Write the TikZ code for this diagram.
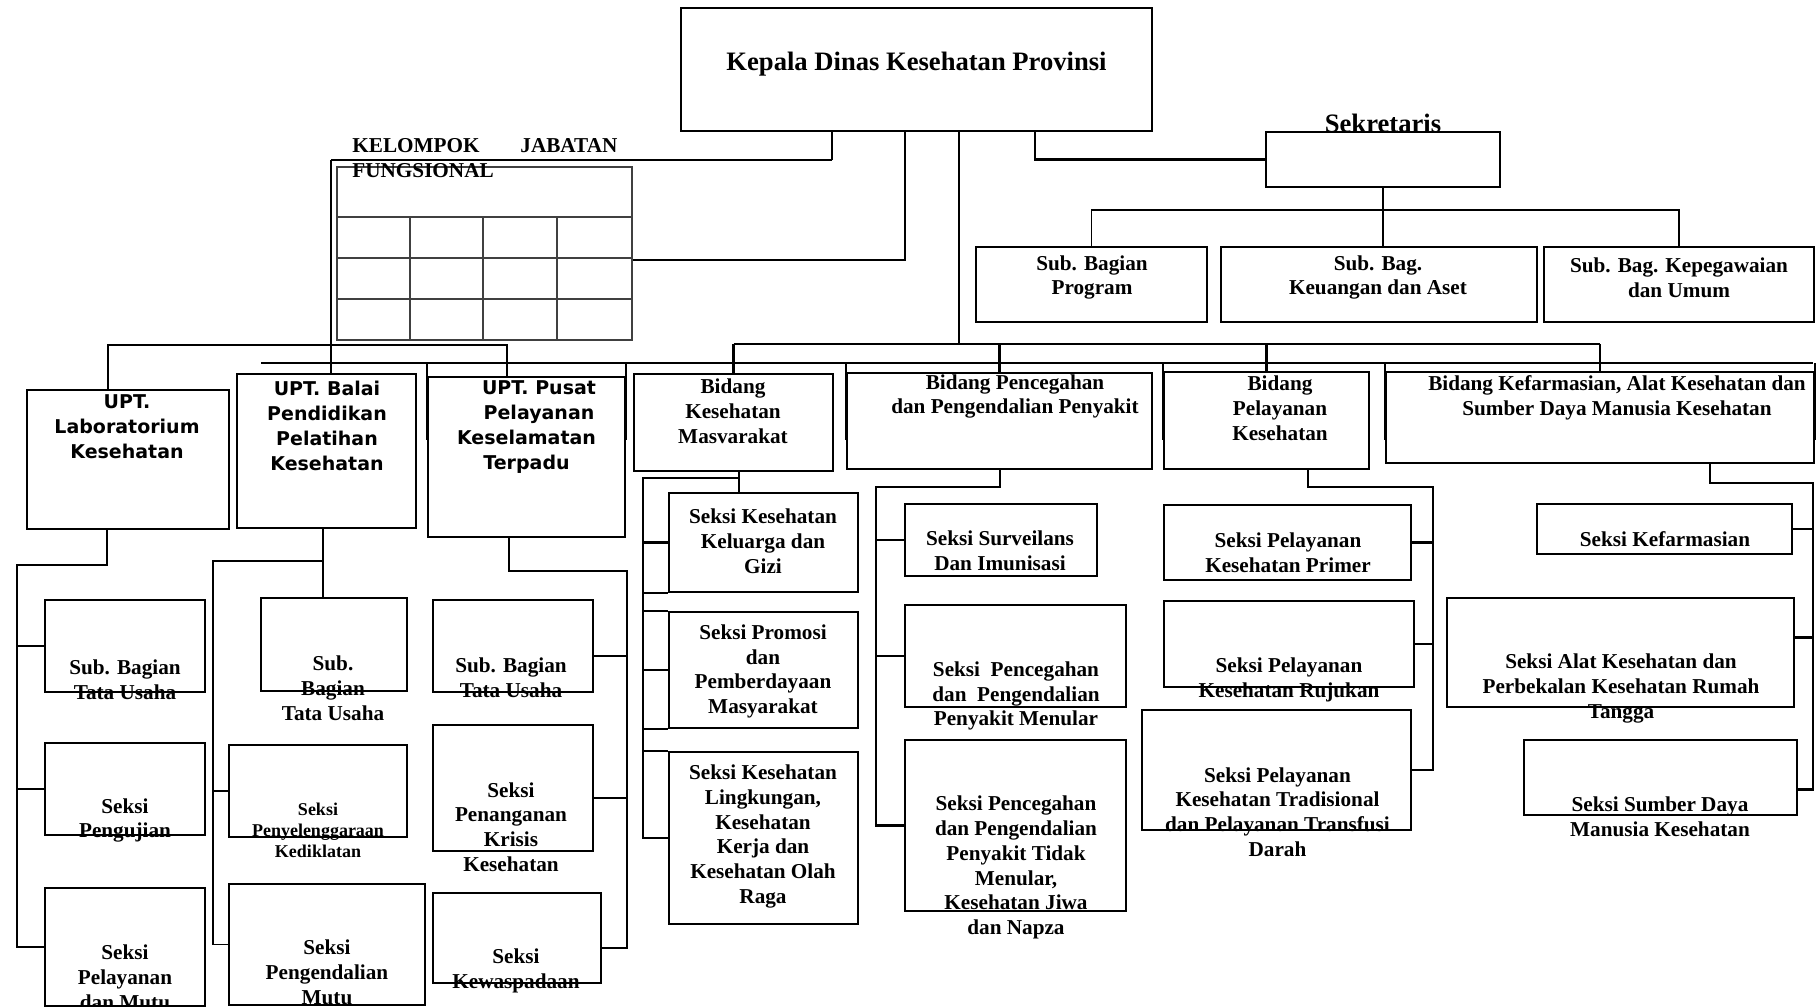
\documentclass[tikz,border=0pt]{standalone}
\usepackage{fontspec}
\setmainfont{Liberation Serif}
\newfontfamily\uptfont{DejaVu Sans}
\usetikzlibrary{fit}
\begin{document}
\begin{tikzpicture}[x=0.5pt, y=-0.5pt,
% common options for boxes:
box/.style = {draw, line width=0.8pt, inner sep=0},
heavy/.style = {box, line width=1.1pt},
% common options for the texts:
txt/.style = {align=center, inner sep=0,
            font=\bfseries\fontsize{10.6}{12.4}\selectfont},
txtsm/.style = {txt, font=\bfseries\fontsize{9}{10.5}\selectfont},
head/.style = {inner sep=0, font=\bfseries\fontsize{13.3}{15}\selectfont},
upt/.style = {align=center, inner sep=0,
            font=\uptfont\bfseries\fontsize{9.5}{12.5}\selectfont},
% common options for the lines:
link/.style = {line width=1.2pt},
wire/.style = {line width=0.8pt},
hair/.style = {line width=0.55pt},
cell/.style = {line width=0.7pt, black!75}]
\useasboundingbox (0,0) rectangle (1816,1007);
% top
\node[box, fit={(681,8) (1152,131)}] (K0) {};
\node[box, fit={(1266,132) (1500,187)}] (S0) {};
\node[box, fit={(976,247) (1207,322)}] (S1) {};
\node[box, fit={(1221,247) (1537,322)}] (S2) {};
\node[box, fit={(1544,247) (1814,322)}] (S3) {};
\node[cell, draw, inner sep=0, fit={(337,167) (632,340)}] (G0) {};
\foreach \y in {217,258,299} \draw[cell] (G0.west |- 0,\y) -- (G0.east |- 0,\y);
\foreach \x in {410,483,557} \draw[cell] (\x,217) -- (\x,340);
\node[head, anchor=base] (tK0) at (916.5,70) {Kepala Dinas Kesehatan Provinsi};
\node[head, anchor=base] (tS0) at (1383,132) {Sekretaris};
\node[txt] (tS1) at (1092,277.5) {Sub. Bagian\\Program};
\node[txt] (tS2) at (1378,277.5) {Sub. Bag.\\Keuangan dan Aset};
\node[txt] (tS3) at (1679,277.5) {Sub. Bag. Kepegawaian\\dan Umum};
\node[txt, text width=132.5pt, align=justify, anchor=north west] (tG0) at (352,138)
     {KELOMPOK JABATAN FUNGSIONAL};
% UPT
\node[box, fit={(27,390) (229,529)}] (U1) {};
\node[box, fit={(237,374) (416,528)}] (U2) {};
\node[box, fit={(428,377) (625,537)}] (U3) {};
\node[upt] (tU1) at (127,427) {UPT.\\Laboratorium\\Kesehatan};
\node[upt] (tU2) at (327,425.5) {UPT. Balai\\Pendidikan\\Pelatihan\\Kesehatan};
\node[upt] (tU3) at (526.5,427) {\hspace*{12.5pt}UPT. Pusat\\\hspace*{12.5pt}Pelayanan\\Keselamatan\\Terpadu};
\node[box, fit={(45,600) (205,692)}] (U1a) {};
\node[box, fit={(45,743) (205,835)}] (U1b) {};
\node[box, fit={(45,888) (205,1006)}] (U1c) {};
\node[box, fit={(261,598) (407,691)}] (U2a) {};
\node[box, fit={(229,745) (407,837)}] (U2b) {};
\node[box, fit={(229,884) (425,1005)}] (U2c) {};
\node[box, fit={(433,600) (593,692)}] (U3a) {};
\node[box, fit={(433,725) (593,851)}] (U3b) {};
\node[box, fit={(433,893) (601,983)}] (U3c) {};
\node[txt] (tU1a) at (125,679.5) {Sub. Bagian\\Tata Usaha};
\node[txt] (tU1b) at (125,820.5) {Seksi\\Pengujian};
\node[txt] (tU1c) at (125,977) {Seksi\\Pelayanan\\dan Mutu};
\node[txt] (tU2a) at (333,688.5) {Sub.\\Bagian\\Tata Usaha};
\node[txtsm] (tU2b) at (318,830) {Seksi\\Penyelenggaraan\\Kediklatan};
\node[txt] (tU2c) at (327,972.5) {Seksi\\Pengendalian\\Mutu};
\node[txt] (tU3a) at (511,678) {Sub. Bagian\\Tata Usaha};
\node[txt] (tU3b) at (511,827) {Seksi\\Penanganan\\Krisis\\Kesehatan};
\node[txt] (tU3c) at (516,970.5) {Seksi\\Kewaspadaan};
% Bidang
\node[box, fit={(634,374) (833,471)}] (B1) {};
\node[box, fit={(847,373) (1152,469)}] (B2) {};
\node[box, fit={(1164,372) (1369,469)}] (B3) {};
\node[box, fit={(1386,372) (1814,463)}] (B4) {};
\node[txt] (tB1) at (733,411) {Bidang\\Kesehatan\\Masvarakat};
\node[txt] (tB2) at (1015,396.5) {Bidang Pencegahan\\dan Pengendalian Penyakit};
\node[txt] (tB3) at (1280,408) {Bidang\\Pelayanan\\Kesehatan};
\node[txt] (tB4) at (1617,397.5) {Bidang Kefarmasian, Alat Kesehatan dan\\Sumber Daya Manusia Kesehatan};
\node[heavy, fit={(669,493) (858,592)}] (B1a) {};
\node[heavy, fit={(669,612) (858,728)}] (B1b) {};
\node[heavy, fit={(669,752) (858,924)}] (B1c) {};
\node[box, fit={(905,504) (1097,576)}] (B2a) {};
\node[box, fit={(905,605) (1126,707)}] (B2b) {};
\node[box, fit={(905,740) (1126,911)}] (B2c) {};
\node[box, fit={(1164,505) (1411,580)}] (B3a) {};
\node[box, fit={(1164,601) (1414,687)}] (B3b) {};
\node[box, fit={(1142,710) (1411,830)}] (B3c) {};
\node[box, fit={(1537,504) (1792,554)}] (B4a) {};
\node[box, fit={(1447,598) (1794,707)}] (B4b) {};
\node[box, fit={(1524,740) (1797,815)}] (B4c) {};
\node[txt] (tB1a) at (763,541) {Seksi Kesehatan\\Keluarga dan\\Gizi};
\node[txt] (tB1b) at (763,671.5) {Seksi Promosi\\dan\\Pemberdayaan\\Masyarakat};
\node[txt] (tB1c) at (763,836.5) {Seksi Kesehatan\\Lingkungan,\\Kesehatan\\Kerja dan\\Kesehatan Olah\\Raga};
\node[txt] (tB2a) at (1000,551) {Seksi Surveilans\\Dan Imunisasi};
\node[txt] (tB2b) at (1016,696) {Seksi~~Pencegahan\\dan~~Pengendalian\\Penyakit Menular};
\node[txt] (tB2c) at (1016,867.5) {Seksi Pencegahan\\dan Pengendalian\\Penyakit Tidak\\Menular,\\Kesehatan Jiwa\\dan Napza};
\node[txt] (tB3a) at (1288,553) {Seksi Pelayanan\\Kesehatan Primer};
\node[txt] (tB3b) at (1289,680) {Seksi Pelayanan\\Kesehatan Rujukan};
\node[txt] (tB3c) at (1277.5,812) {Seksi Pelayanan\\Kesehatan Tradisional\\dan Pelayanan Transfusi\\Darah};
\node[txt] (tB4a) at (1665,539.5) {Seksi Kefarmasian};
\node[txt] (tB4b) at (1621,688.5) {Seksi Alat Kesehatan dan\\Perbekalan Kesehatan Rumah\\Tangga};
\node[txt] (tB4c) at (1660,817) {Seksi Sumber Daya\\Manusia Kesehatan};
% lines from the head
\coordinate (k1) at (832,160);
\coordinate (k2) at (331,160);
\coordinate (k3) at (905,260);
\coordinate (k4) at (959,344);
\coordinate (k5) at (1035,0);
\draw[wire] (K0.south -| k1) -- (k1);
\draw[hair] (k1) -- (k2);
\draw[link] (k2) -- (k2 |- U2.north);
\draw[link] (K0.south -| k3) -- (k3) -- (G0.east |- k3);
\draw[wire] (K0.south -| k4) -- (k4);
\draw[link] (K0.south -| k5) -- (k5 |- S0.west) -- (S0.west);
\coordinate (s1) at (1385,210);
\draw[wire] (S0.south) -- (S0.south |- S2.north);
\draw[wire] (S1.north) -- (S1.north |- s1) -- (S3.north |- s1) -- (S3.north);
% buses
\coordinate (bus) at (0,344);
\draw[link] (B1.north |- bus) -- (B4.north |- bus);
\foreach \n in {B1,B2,B3,B4} \draw[link] (\n.north |- bus) -- (\n.north);
\coordinate (l1) at (108,345);
\coordinate (l2) at (507,345);
\draw[link] (l1 |- U1.north) -- (l1) -- (l2) -- (l2 |- U3.north);
\coordinate (w0) at (261,363);
\coordinate (w1) at (1813,363);
\coordinate (e0) at (0,440);
\draw[link] (w0) -- (w1);
\foreach \n in {U3.north west,U3.north east,B2.north west,B3.north west,B4.north west,B4.north east}
  \draw[link] (\n |- w0) -- (\n |- e0);
% UPT Laboratorium
\coordinate (c1) at (107,565);
\coordinate (c1b) at (17,565);
\draw[link] (U1.south -| c1) -- (c1) -- (c1b) -- (c1b |- U1c.west) -- (U1c.west);
\draw[link] (c1b |- U1a.west) -- (U1a.west);
\draw[link] (c1b |- U1b.west) -- (U1b.west);
% UPT Balai
\coordinate (c2) at (323,561);
\coordinate (c2b) at (213,561);
\draw[link] (U2.south -| c2) -- (c2 |- U2a.north);
\draw[hair] (c2) -- (c2b) -- (c2b |- U2c.west) -- (U2c.west);
\draw[hair] (c2b |- U2b.west) -- (U2b.west);
% UPT Pusat
\coordinate (c3) at (509,571);
\coordinate (c3b) at (627,571);
\coordinate (p3a) at ([yshift=-5pt]U3a.east);
\coordinate (p3b) at ([yshift=-5pt]U3b.east);
\coordinate (p3c) at ([yshift=-5pt]U3c.east);
\draw[link] (U3.south -| c3) -- (c3) -- (c3b) -- (c3b |- p3c) -- (p3c);
\draw[link] (c3b |- p3a) -- (p3a);
\draw[link] (c3b |- p3b) -- (p3b);
% Bidang Kesehatan Masyarakat
\coordinate (c4) at (739,478);
\coordinate (c4b) at (643,478);
\draw[link] (B1.south -| c4) -- (c4 |- B1a.north);
\draw[link] (c4) -- (c4b) -- (c4b |- B1c.west) -- (B1c.west);
\draw[link] (c4b |- B1a.west) -- (B1a.west);
\draw[link] (c4b |- B1b.west) -- (B1b.west);
\foreach \n in {B1a.south west,B1b.north west,B1b.south west,B1c.north west}
  \draw[line width=1.1pt] (c4b |- \n) -- (\n);
% Bidang P2P
\coordinate (c5) at (1000,487);
\coordinate (c5b) at (876,487);
\draw[link] (B2.south -| c5) -- (c5) -- (c5b) -- (c5b |- B2c.west) -- (B2c.west);
\draw[link] (c5b |- B2a.west) -- (B2a.west);
\draw[link] (c5b |- B2b.west) -- (B2b.west);
% Bidang Pelayanan
\coordinate (c6) at (1308,487);
\coordinate (c6b) at (1433,487);
\draw[link] (B3.south -| c6) -- (c6) -- (c6b) -- (c6b |- B3c.east) -- (B3c.east);
\draw[link] (c6b |- B3a.east) -- (B3a.east);
\draw[link] (c6b |- B3b.east) -- (B3b.east);
% Bidang Kefarmasian
\coordinate (c7) at (1710,483);
\coordinate (c7b) at (1813,483);
\coordinate (p4b) at ([yshift=7.5pt]B4b.east);
\coordinate (p4c) at ([yshift=-6pt]B4c.east);
\draw[link] (B4.south -| c7) -- (c7) -- (c7b) -- (c7b |- p4c) -- (p4c);
\draw[link] (c7b |- B4a.east) -- (B4a.east);
\draw[link] (c7b |- p4b) -- (p4b);
\end{tikzpicture}
\end{document}
